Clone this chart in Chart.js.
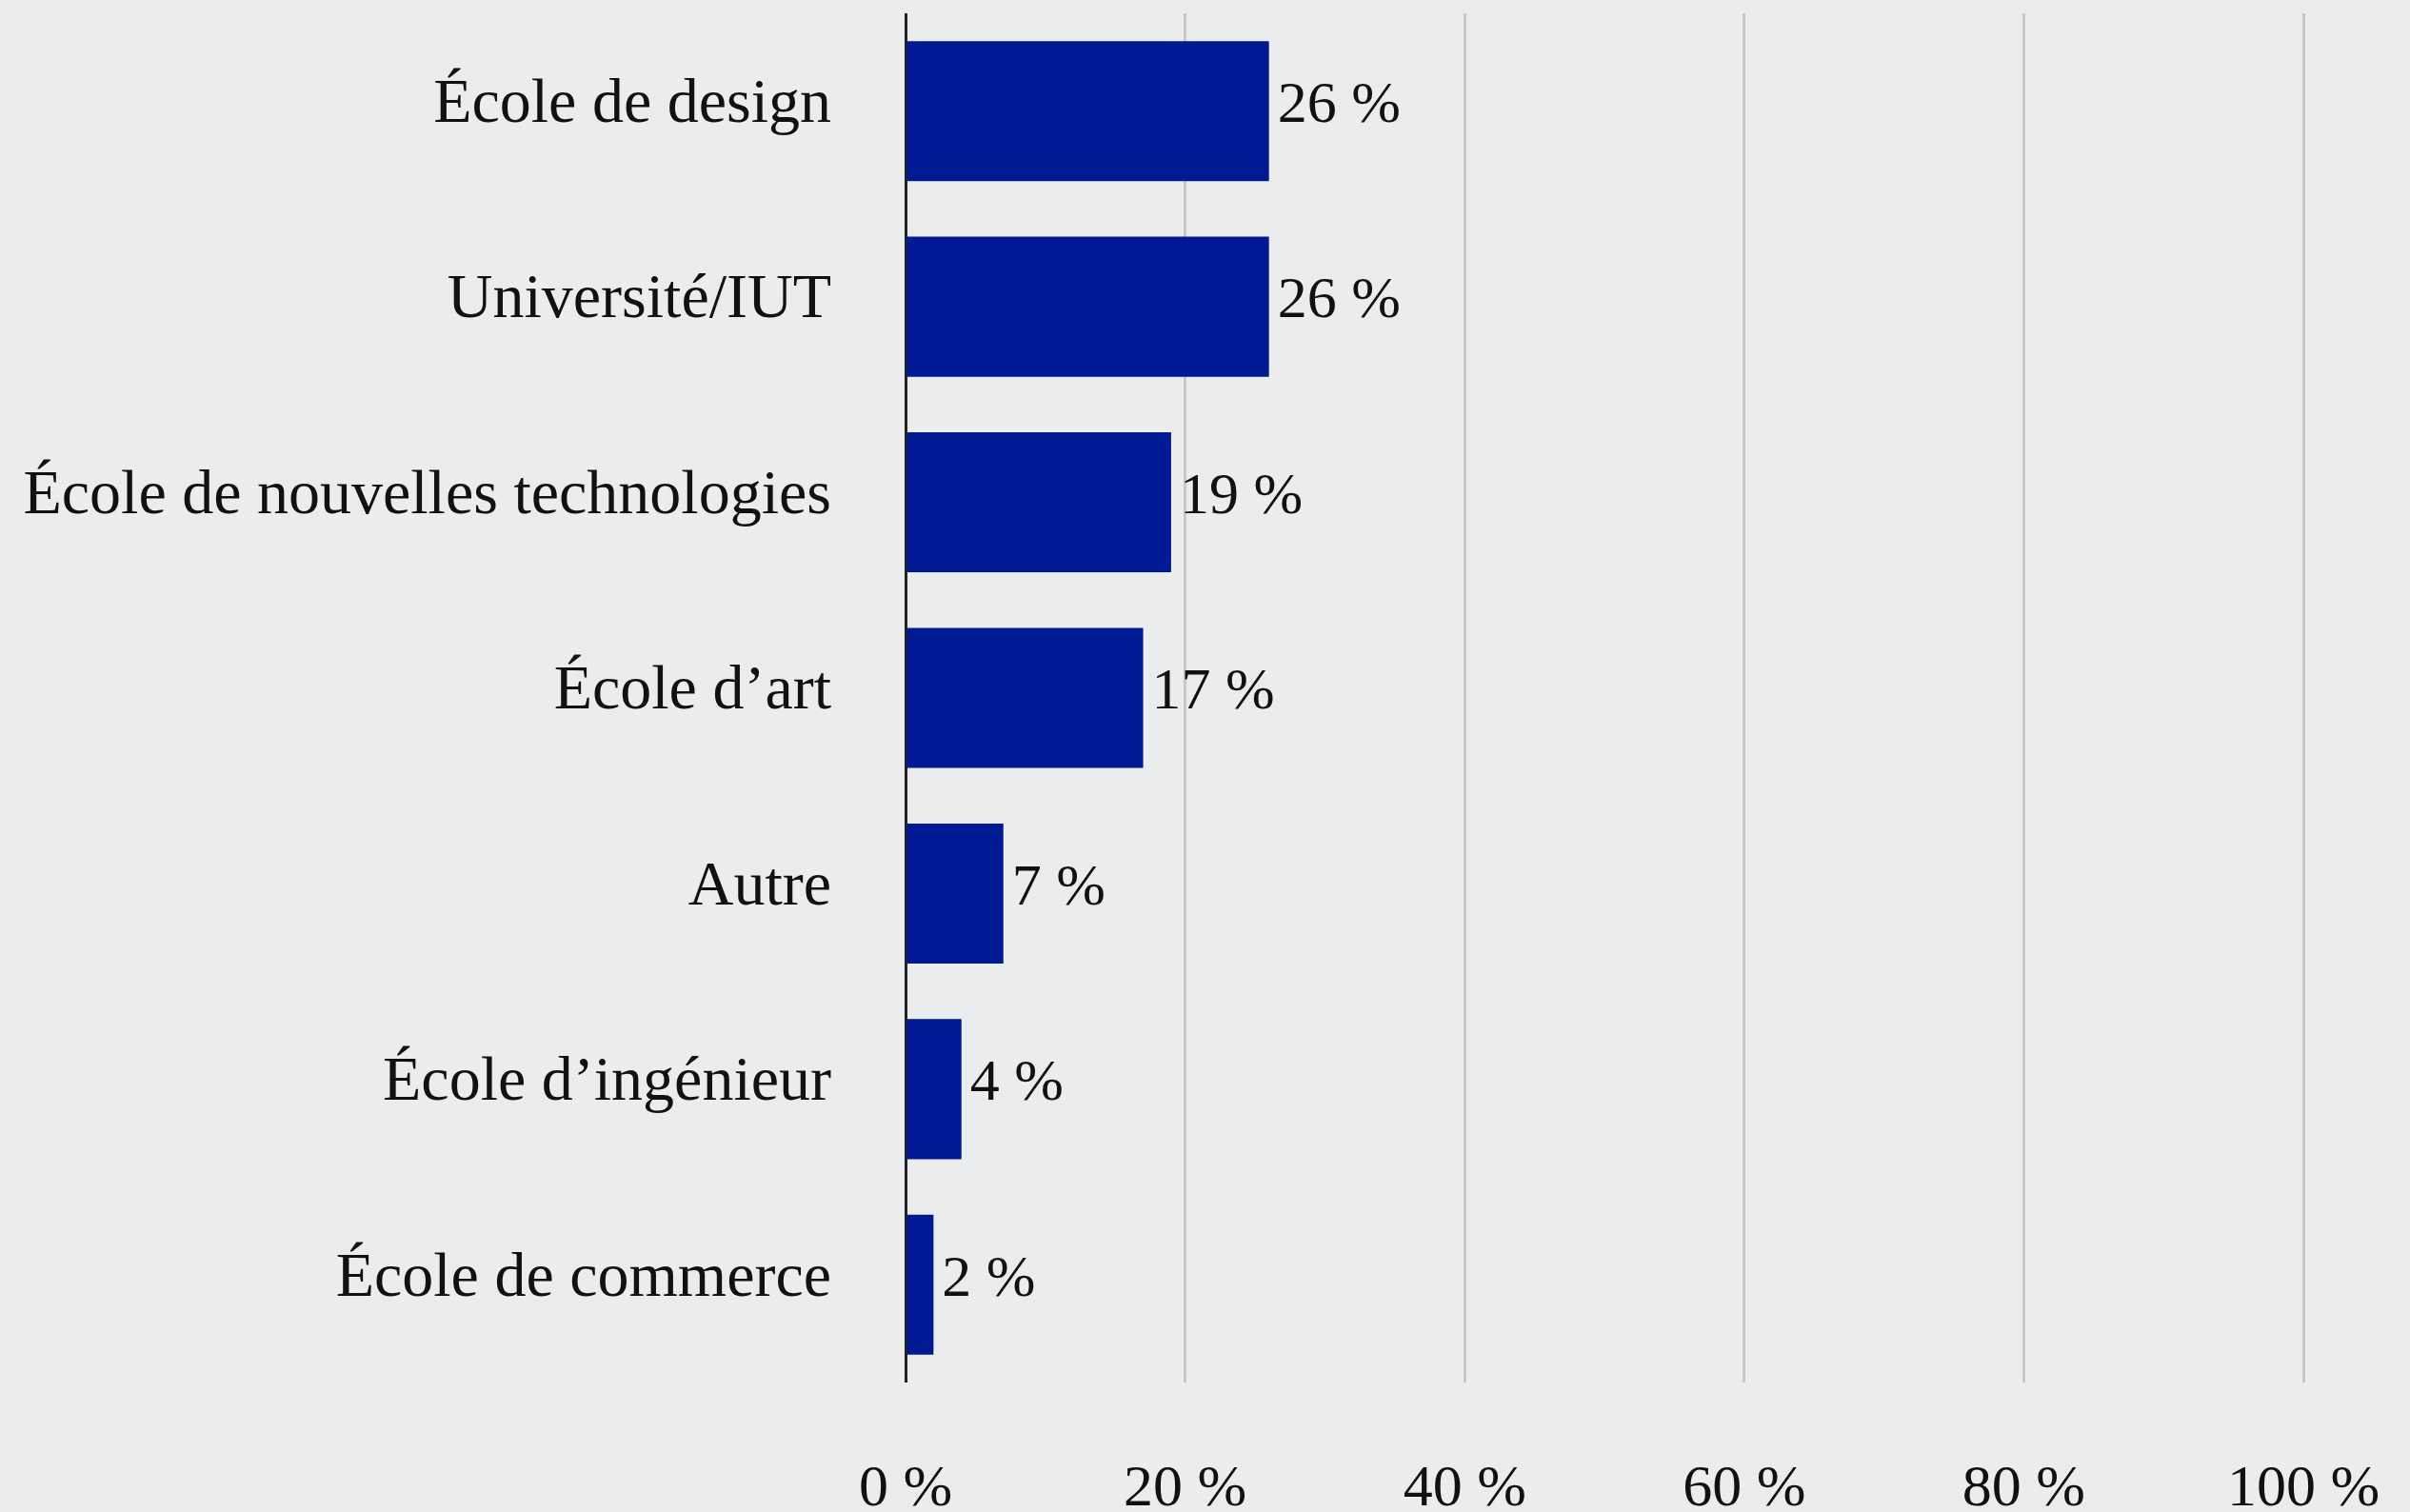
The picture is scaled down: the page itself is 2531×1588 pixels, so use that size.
<!DOCTYPE html>
<html>
<head>
<meta charset="utf-8">
<script src="https://cdn.jsdelivr.net/npm/chart.js@4/dist/chart.umd.min.js"></script>
<style>
html,body{margin:0;padding:0;background:#EBECEE;}
canvas{display:block;}
</style>
</head>
<body>
<canvas id="c" width="2531" height="1588"></canvas>
<script>
const categories = ["École de design","Université/IUT","École de nouvelles technologies","École d’art","Autre","École d’ingénieur","École de commerce"];
const values = [26, 26, 19, 17, 7, 4, 2];
const xTicks = [0, 20, 40, 60, 80, 100];

const FONT = "'Liberation Serif', 'Times New Roman', serif";

const bgPlugin = {
  id: 'bg',
  beforeDraw(chart) {
    const ctx = chart.ctx;
    ctx.save();
    ctx.fillStyle = '#EBECEE';
    ctx.fillRect(0, 0, chart.width, chart.height);
    ctx.restore();
  }
};

const labelPlugin = {
  id: 'valLabels',
  afterDatasetsDraw(chart) {
    const ctx = chart.ctx;
    const meta = chart.getDatasetMeta(0);
    ctx.save();
    ctx.fillStyle = '#111';
    ctx.font = "62px " + FONT;
    ctx.textAlign = 'left';
    ctx.textBaseline = 'middle';
    meta.data.forEach((bar, i) => {
      ctx.fillText(values[i] + ' %', bar.x + 9, bar.y - 5);
    });
    ctx.restore();
  }
};

new Chart(document.getElementById('c'), {
  type: 'bar',
  data: {
    labels: categories,
    datasets: [{
      data: values,
      backgroundColor: '#001A94',
      borderWidth: 0,
      barPercentage: 0.716,
      categoryPercentage: 1.0
    }]
  },
  options: {
    indexAxis: 'y',
    responsive: false,
    animation: false,
    devicePixelRatio: 1,
    layout: { padding: { top: 14, right: 112, left: 0, bottom: 0 } },
    plugins: { legend: { display: false }, tooltip: { enabled: false } },
    scales: {
      x: {
        min: 0, max: 100,
        afterBuildTicks(scale) { scale.ticks = xTicks.map(v => ({ value: v })); },
        afterFit(scale) {
          scale.height = 136;
          scale.paddingLeft = 0; scale.paddingRight = 0;
          scale.paddingTop = 0; scale.paddingBottom = 0;
        },
        border: { display: false },
        grid: {
          drawTicks: false,
          color: ctx => (ctx.tick && ctx.tick.value === 0) ? '#222222' : '#C8C8C8',
          lineWidth: 3
        },
        ticks: {
          padding: 76,
          color: '#111',
          font: { family: FONT, size: 62 },
          callback: v => v + ' %',
          maxRotation: 0
        }
      },
      y: {
        afterFit(scale) {
          scale.width = 951;
          scale.paddingLeft = 0; scale.paddingRight = 0;
          scale.paddingTop = 0; scale.paddingBottom = 0;
        },
        border: { display: false },
        grid: { display: false, drawTicks: false },
        ticks: {
          padding: 78,
          labelOffset: -6,
          color: '#111',
          font: { family: FONT, size: 66 }
        }
      }
    }
  },
  plugins: [bgPlugin, labelPlugin]
});
</script>
</body>
</html>
